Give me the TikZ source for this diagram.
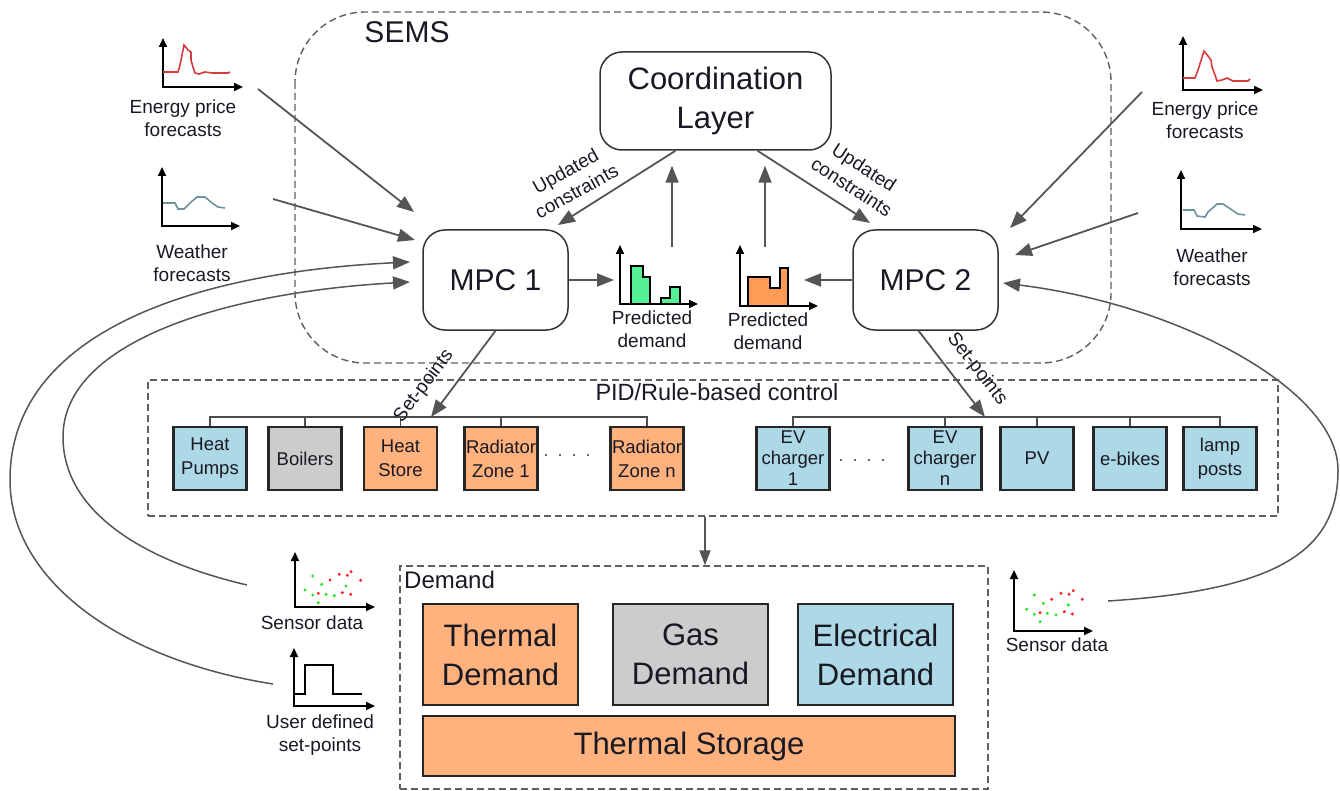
\documentclass[tikz,border=0pt]{standalone}
\usepackage{fontspec}
\setmainfont{Liberation Sans}
\usetikzlibrary{arrows.meta,calc}
\definecolor{lblue}{RGB}{173,216,230}
\definecolor{lgray}{RGB}{204,204,204}
\definecolor{lorange}{RGB}{255,178,125}
\definecolor{agray}{RGB}{85,85,85}
\definecolor{dgray}{RGB}{95,95,95}
\definecolor{tcol}{RGB}{25,25,35}
\definecolor{pgreen}{RGB}{85,240,145}
\definecolor{porange}{RGB}{255,155,85}
\definecolor{pred}{RGB}{215,60,60}
\definecolor{wcol}{RGB}{110,145,155}
\definecolor{dred}{RGB}{255,40,40}
\definecolor{dgreen}{RGB}{40,230,40}
\tikzset{
 conn/.style={draw=agray, line width=1.8pt, -{Triangle[length=17pt,width=13pt]}},
 dashbox/.style={draw=dgray, line width=1.4pt, dash pattern=on 7pt off 4pt},
 rbox/.style={draw=black!80, line width=1.5pt, rounded corners=22pt, fill=white, align=center, text=tcol},
 cbox/.style={draw=black!85, line width=2.2pt, minimum width=73pt, minimum height=63pt, align=center, inner sep=1pt, font=\fontsize{18.5}{24}\selectfont, text=tcol},
 dbox/.style={draw=black!85, line width=2.2pt, align=center, font=\fontsize{31}{39}\selectfont, text=tcol},
 lbl/.style={align=center, font=\fontsize{19}{23}\selectfont, text=tcol, inner sep=0pt},
 axes2/.style={draw=black, line width=2pt, {Triangle[length=9pt,width=8pt]}-{Triangle[length=9pt,width=8pt]}},
 bus/.style={draw=black!70, line width=1.6pt},
 chartfill/.style={draw=black, line width=1.6pt},
}
\begin{document}
\begin{tikzpicture}[x=1pt,y=-1pt]
\useasboundingbox (0,0) rectangle (1340,791);

% ---------- SEMS ----------
\draw[dashbox, rounded corners=70pt] (295,12) rectangle (1111,363);
\node[font=\fontsize{30}{36}\selectfont, text=tcol] (sems) at (407,32) {SEMS};

\node[rbox, minimum width=231pt, minimum height=98pt, font=\fontsize{31}{39}\selectfont] (coord) at (715.5,101) {Coordination\\Layer};
\node[rbox, minimum width=145pt, minimum height=100pt, font=\fontsize{30}{36}\selectfont] (mpc1) at (495.5,280) {MPC 1};
\node[rbox, minimum width=145pt, minimum height=100pt, font=\fontsize{30}{36}\selectfont] (mpc2) at (925.5,280) {MPC 2};

% updated constraints
\coordinate (uL) at (558,225);
\coordinate (uR) at (870,223);
\draw[conn] ([xshift=-40pt]coord.south) -- (uL);
\draw[conn] ([xshift=42pt]coord.south) -- (uR);
\node[lbl, rotate=29] (ucL) at (571,181) {Updated\\constraints};
\node[lbl, rotate=-33] (ucR) at (858,177) {Updated\\constraints};

% predicted demand charts
\filldraw[chartfill, fill=pgreen] (631,304) -- (631,266) -- (643,266) -- (643,277) -- (650,277) -- (650,304) -- cycle;
\filldraw[chartfill, fill=pgreen] (661,304) -- (661,298) -- (670,298) -- (670,287) -- (680,287) -- (680,304) -- cycle;
\draw[axes2] (620,245) |- (698,304);
\node[lbl] (pdg) at (652,329) {Predicted\\demand};

\filldraw[chartfill, fill=porange] (748,306) -- (748,277) -- (770,277) -- (770,288) -- (780,288) -- (780,268) -- (788,268) -- (788,306) -- cycle;
\draw[axes2] (740,245) |- (818,306);
\node[lbl] (pdo) at (768,331) {Predicted\\demand};

\coordinate (gin) at (614,280);
\coordinate (oin) at (804,280);
\draw[conn] (mpc1.east) -- (gin);
\draw[conn] (mpc2.west) -- (oin);
\coordinate (gtop) at (672,247);
\coordinate (otop) at (765,247);
\draw[conn, shorten >=15pt] (gtop) -- (gtop |- coord.south);
\draw[conn, shorten >=15pt] (otop) -- (otop |- coord.south);

% ---------- left inputs ----------
\draw[axes2] (163,38) |- (243,87);
\draw[pred, line width=1.6pt] (163,72) -- (178,72) -- (180,65) -- (184,45) -- (188,50) -- (191,52) -- (191,60) -- (193,67) -- (195,73) -- (199,74) -- (205,72) -- (212,73) -- (228,73) -- (230,72);
\node[lbl] (epL) at (183,118.5) {Energy price\\forecasts};

\draw[axes2] (162,167) |- (240,226);
\draw[wcol, line width=1.6pt] (163,203) -- (175,203) -- (178,209) -- (184,209) -- (190,203) -- (197,197) -- (205,197) -- (212,203) -- (218,207) -- (225,208);
\node[lbl] (wfL) at (192,263.5) {Weather\\forecasts};

\coordinate (eLs) at (258,89);  \coordinate (eLt) at (414,212);
\coordinate (wLs) at (273,199); \coordinate (wLt) at (415,240);
\draw[conn] (eLs) -- (eLt);
\draw[conn] (wLs) -- (wLt);

% ---------- right inputs ----------
\draw[axes2] (1183,36) |- (1263,90);
\draw[pred, line width=1.6pt] (1183,78) -- (1195,78) -- (1198,70) -- (1204,51) -- (1208,56) -- (1211,60) -- (1212,67) -- (1215,75) -- (1217,81) -- (1222,80) -- (1227,78) -- (1233,81) -- (1248,81) -- (1250,79);
\node[lbl] (epR) at (1205,120.5) {Energy price\\forecasts};

\draw[axes2] (1181,170) |- (1262,229);
\draw[wcol, line width=1.6pt] (1183,210) -- (1194,210) -- (1197,216) -- (1205,217) -- (1208,212) -- (1217,204) -- (1223,204) -- (1232,210) -- (1238,214) -- (1245,215);
\node[lbl] (wfR) at (1212,267.5) {Weather\\forecasts};

\coordinate (eRs) at (1142,92);  \coordinate (eRt) at (1010,228);
\coordinate (wRs) at (1138,213); \coordinate (wRt) at (1015,255);
\draw[conn] (eRs) -- (eRt);
\draw[conn] (wRs) -- (wRt);

% ---------- PID ----------
\node[dashbox, minimum width=1130pt, minimum height=136pt, inner sep=0pt] (pid) at (713,448) {};
\node[lbl, font=\fontsize{23.5}{28}\selectfont] (pidl) at (717,392) {PID/Rule-based control};

\node[cbox, fill=lblue] (hp) at (210,458.5) {Heat\\Pumps};
\node[cbox, fill=lgray] (boil) at (305,458.5) {Boilers};
\node[cbox, fill=lorange] (hs) at (400.5,458.5) {Heat\\Store};
\node[cbox, fill=lorange] (r1) at (501,458.5) {Radiator\\Zone 1};
\node[cbox, fill=lorange] (rn) at (647,458.5) {Radiator\\Zone n};
\node[cbox, fill=lblue, font=\fontsize{18.5}{21}\selectfont] (ev1) at (793,458.5) {EV\\charger\\1};
\node[cbox, fill=lblue, font=\fontsize{18.5}{21}\selectfont] (evn) at (945,458.5) {EV\\charger\\n};
\node[cbox, fill=lblue] (pv) at (1037,458.5) {PV};
\node[cbox, fill=lblue] (eb) at (1130,458.5) {e-bikes};
\node[cbox, fill=lblue] (lp) at (1220,458.5) {lamp\\posts};

\coordinate (busy) at (0,417);
\draw[bus] (hp.north) -- (hp.north |- busy) -- (rn.north |- busy) -- (rn.north);
\foreach \b in {boil,hs,r1} \draw[bus] (\b.north) -- (\b.north |- busy);
\draw[bus] (ev1.north) -- (ev1.north |- busy) -- (lp.north |- busy) -- (lp.north);
\foreach \b in {evn,pv,eb} \draw[bus] (\b.north) -- (\b.north |- busy);

\draw[line width=2.2pt, dash pattern=on 0pt off 14pt, line cap=round, black!80] (546,455) -- (602,455);
\draw[line width=2.2pt, dash pattern=on 0pt off 14pt, line cap=round, black!80] (841,460) -- (897,460);

% set-points
\coordinate (tipL) at (431,417);
\coordinate (tipR) at (985,417);
\draw[conn] (mpc1.south) -- (tipL);
\draw[conn] ([xshift=-7pt]mpc2.south) -- (tipR);
\node[lbl, rotate=53] (spL) at (424,386) {Set-points};
\node[lbl, rotate=-52] (spR) at (977,369) {Set-points};

% ---------- Demand ----------
\node[dashbox, minimum width=588pt, minimum height=223pt, inner sep=0pt] (demand) at (694,677.5) {};
\node[lbl, font=\fontsize{24}{28}\selectfont, anchor=west] (demlbl) at (404,580) {Demand};
\node[dbox, fill=lorange, minimum width=155pt, minimum height=101pt] (td) at (500.5,654.5) {Thermal\\Demand};
\node[dbox, fill=lgray, minimum width=155pt, minimum height=101pt] (gd) at (690.5,654.5) {Gas\\Demand};
\node[dbox, fill=lblue, minimum width=155pt, minimum height=101pt] (ed) at (875.5,654.5) {Electrical\\Demand};
\node[dbox, fill=lorange, minimum width=532pt, minimum height=60pt] (ts) at (689,746) {Thermal Storage};

\coordinate (ax) at (705,0);
\draw[conn, -{Triangle[length=15pt,width=11pt]}] (pid.south -| ax) -- (demand.north -| ax);

% ---------- sensor / user icons ----------
\draw[axes2] (295,552) |- (375,607);
\foreach \x/\y in {312.7/576,321.7/584.3,305/590,312.7/595,326/594.3,334.3/595.7,318.3/602.7,346/586}
  \fill[dgreen] (\x,\y) circle (1.7pt);
\foreach \x/\y in {330/580,339.3/574.3,347.3/575.3,351/571.7,360.7/580.3,318.3/593.3,342.3/592.7,350.7/594.3}
  \fill[dred] (\x,\y) circle (1.7pt);
\node[lbl] (sdL) at (312,623) {Sensor data};

\draw[axes2] (294,648) |- (375,706);
\draw[black, line width=2pt] (294,694) -- (305,694) -- (305,665) -- (333,665) -- (333,694) -- (362,694);
\node[lbl] (udL) at (320,735) {User defined\\set-points};

\draw[axes2] (1014,570) |- (1093,631);
\foreach \x/\y in {1034.3/595,1043.3/603.3,1026.7/609.3,1034.3/614.3,1047.3/613.3,1056/615,1040/621.7,1068.3/605}
  \fill[dgreen] (\x,\y) circle (1.7pt);
\foreach \x/\y in {1051.7/599.3,1061/593.3,1069/594.3,1073.3/590.7,1082.3/599.3,1040/612.7,1064.3/611.7,1072.3/614}
  \fill[dred] (\x,\y) circle (1.7pt);
\node[lbl] (sdR) at (1057,645) {Sensor data};

% ---------- feedback curves ----------
\coordinate (sL) at (247,585);
\coordinate (uLs) at (273,684);
\coordinate (sR) at (1108,601);
\coordinate (cLa) at (410,262);
\coordinate (cLb) at (410,282);
\coordinate (cR) at (1003,283);
\draw[conn, line width=1.5pt] (uLs) .. controls (120,660) and (10,580) .. (10,480) .. controls (10,330) and (200,272) .. (cLa);
\draw[conn, line width=1.5pt] (sL) .. controls (140,560) and (63,510) .. (63,437) .. controls (63,340) and (230,292) .. (cLb);
\draw[conn, line width=1.5pt] (sR) .. controls (1280,590) and (1338,550) .. (1338,470) .. controls (1338,390) and (1180,305) .. (cR);
\end{tikzpicture}
\end{document}
